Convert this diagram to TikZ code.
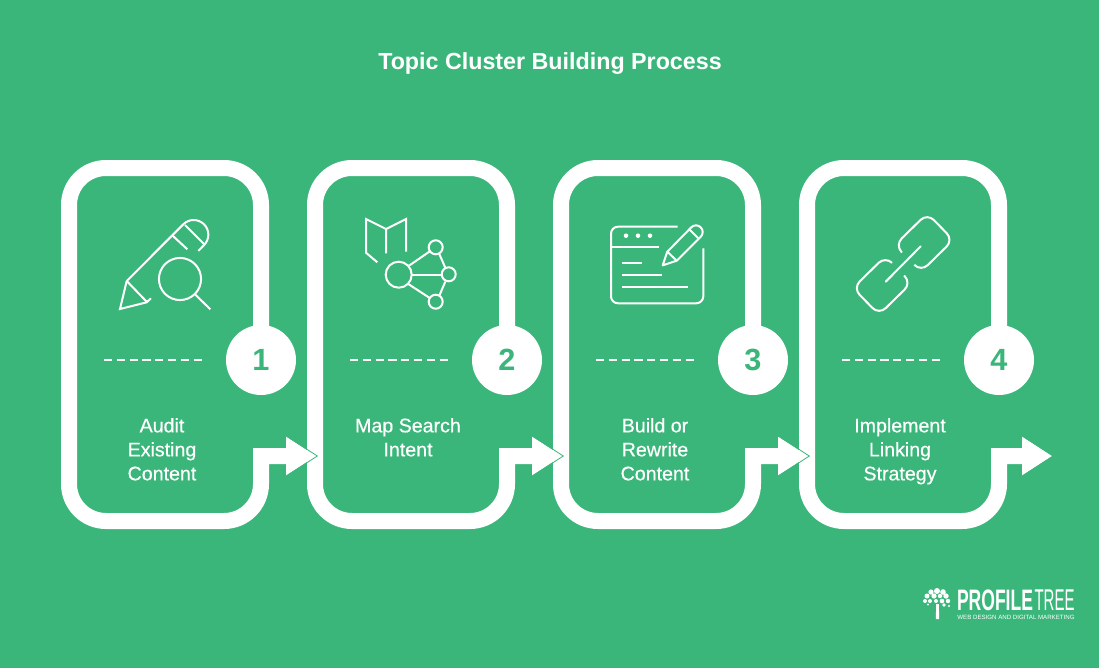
\documentclass[tikz,border=0pt]{standalone}
\usepackage{fontspec}
\setmainfont{Liberation Sans}
\newfontfamily\labfont[FakeBold=0.5]{Liberation Sans}
\definecolor{bg}{HTML}{3AB67A}
\tikzset{
  px/.style={x=0.75pt,y=-0.75pt},
  frame/.style={draw=white,line width=12pt,miter limit=10},
  headedge/.style={draw=bg,line width=0.6pt},
  badge/.style={circle,fill=white,minimum size=52.5pt,inner sep=0pt,text=bg,font=\fontsize{23}{23}\selectfont\bfseries},
  lab/.style={text=white,align=center,inner sep=0pt,font=\labfont\fontsize{14.7}{18}\selectfont},
  ico/.style={draw=white,line width=1.5pt},
  sep/.style={draw=white,line width=1.5pt,dash pattern=on 6.2pt off 3.4pt},
}
\newcommand{\stepframe}[4]{%
  \begin{scope}[shift={(#1,0)}]
    \draw[frame] (261,360) -- (261,205) arc[start angle=0,end angle=90,radius=27.75pt] -- (106,168)
      arc[start angle=90,end angle=180,radius=27.75pt] -- (69,484)
      arc[start angle=180,end angle=270,radius=27.75pt] -- (224,521)
      arc[start angle=-90,end angle=0,radius=27.75pt] -- (261,456) -- (288,456);
    \coordinate (h#2) at (261,360);
    \node[badge] (b#2) at (h#2) {#2};
    \coordinate (sa#2) at (104,360);
    \coordinate (sb#2) at (203,360);
    \draw[sep] (sa#2) -- (sb#2);
    \node[lab] (t#2) at (#3,#4) {\ifcase#2\or \strut Audit\\\strut Existing\\\strut Content\or \strut Map Search\\\strut Intent\or \strut Build or\\\strut Rewrite\\\strut Content\or \strut Implement\\\strut Linking\\\strut Strategy\fi};
  \end{scope}}
\newcommand{\stephead}[1]{%
  \begin{scope}[shift={(#1,0)}]
    \fill[white] (286,436.5) -- (316,456) -- (286,475.5) -- cycle;
    \draw[headedge] (286,435.8) -- (317.3,456) -- (286,476.2);
  \end{scope}}
\begin{document}
\begin{tikzpicture}[px]
\useasboundingbox (0,0) rectangle (1099,668);
\fill[bg] (0,0) rectangle (1099,668);
\node[text=white,font=\fontsize{17.45}{18}\selectfont\bfseries] (title) at (550,63.5) {Topic Cluster Building Process};

\stepframe{0}{1}{162}{451.5}
\stepframe{246}{2}{162}{439.5}
\stepframe{492}{3}{163}{451.5}
\stepframe{738}{4}{162}{451.5}
\stephead{0}\stephead{246}\stephead{492}\stephead{736}

% icon 1: pencil and magnifier
\draw[ico] (126.7,281) -- (183.3,224.3) arc[start angle=135,end angle=-45,radius=11pt] -- (198.3,251);
\draw[ico] (126.7,281) -- (120,309) -- (146.7,302.3) -- (151,298.3);
\draw[ico] (126.7,281) -- (146.7,301.7);
\draw[ico] (172.7,235.7) -- (187.3,249.3);
\draw[ico] (185,225) -- (204.3,244.3);
\draw[ico] (180,279) circle[radius=15.8pt];
\draw[ico] (195,294.3) -- (210.3,309.3);

% icon 2: book and graph
\draw[ico] (386,253.3) -- (386,229) -- (366,219) -- (366,252.7) -- (377.3,262.3);
\draw[ico] (386,229) -- (406,219) -- (406,251.7);
\draw[ico] (398.7,274.7) circle[radius=9.75pt];
\draw[ico] (435.7,247.3) circle[radius=5.25pt];
\draw[ico] (448.7,274.3) circle[radius=5.25pt];
\draw[ico] (435.7,301.7) circle[radius=5.25pt];
\draw[ico] (409,265.7) -- (429.3,251.7);
\draw[ico] (411.7,274.7) -- (441.7,274.7);
\draw[ico] (408.3,284) -- (429.3,297.7);
\draw[ico] (439.3,254) -- (445.3,267.7);
\draw[ico] (445.3,281.7) -- (439.3,295.7);

% icon 3: window and pencil
\draw[ico] (677.7,226.7) -- (618,226.7) arc[start angle=90,end angle=180,radius=5.25pt] -- (611,296.3) arc[start angle=180,end angle=270,radius=5.25pt] -- (696.3,303.3) arc[start angle=-90,end angle=0,radius=5.25pt] -- (703.3,248.3);
\draw[ico] (611,246.7) -- (659.3,246.7);
\fill[white] (626,235.7) circle[radius=1.7pt] (638,235.7) circle[radius=1.7pt] (650,235.7) circle[radius=1.7pt];
\draw[ico] (622.3,262.7) -- (641.7,262.7);
\draw[ico] (622.3,274.7) -- (662,274.7);
\draw[ico] (622.3,286.7) -- (687.7,286.7);
\draw[ico,line join=round] (662.7,265.3) -- (667.3,251.7) -- (691.3,227.3) arc[start angle=135,end angle=-45,radius=5pt] -- (676.7,260.7) -- cycle;
\draw[ico] (667.3,251.7) -- (676.7,260.7);
\draw[ico] (689.3,229.3) -- (698.7,238.7);

% icon 4: chain link
\draw[ico,rounded corners=7pt] (902,252.5) -- (895,245) -- (927.3,213.3) -- (953.3,240) -- (921,271.7) -- (914.3,264.8);
\draw[ico,rounded corners=7pt] (904,275.5) -- (911.3,283) -- (879,314.7) -- (853,288) -- (885.3,256.3) -- (892,262.8);
\draw[ico,line cap=round] (885.7,281.7) -- (920.7,246.3);

% logo
\begin{scope}[white]
  \fill (936.2,604) -- (938.8,604) -- (939.2,619) -- (935.8,619) -- cycle;
  \foreach \a/\b/\r in {937/591/3,931/592/2.6,943/592/2.8,927/596/2.5,934/596/2.6,940/596/2.2,946/596/2.7,925/601/2,930/601/2,936/601/2,942/601/2.3,948/601/2.2,928/604.5/1.2,944/605/1.8,949/606/1.1}
    \fill (\a,\b) circle[radius=\r*0.75pt];
\end{scope}
\node[text=white,inner sep=0pt] (pf) at (995,600.5) {\resizebox{57pt}{15.5pt}{\bfseries PROFILE}};
\node[text=white,inner sep=0pt] (tr) at (1054.5,600.5) {\resizebox{30pt}{15.5pt}{TREE}};
\node[text=white,inner sep=0pt,font=\fontsize{4.6}{5}\selectfont] (sub) at (1016,617.5) {WEB DESIGN AND DIGITAL MARKETING};
\end{tikzpicture}
\end{document}
